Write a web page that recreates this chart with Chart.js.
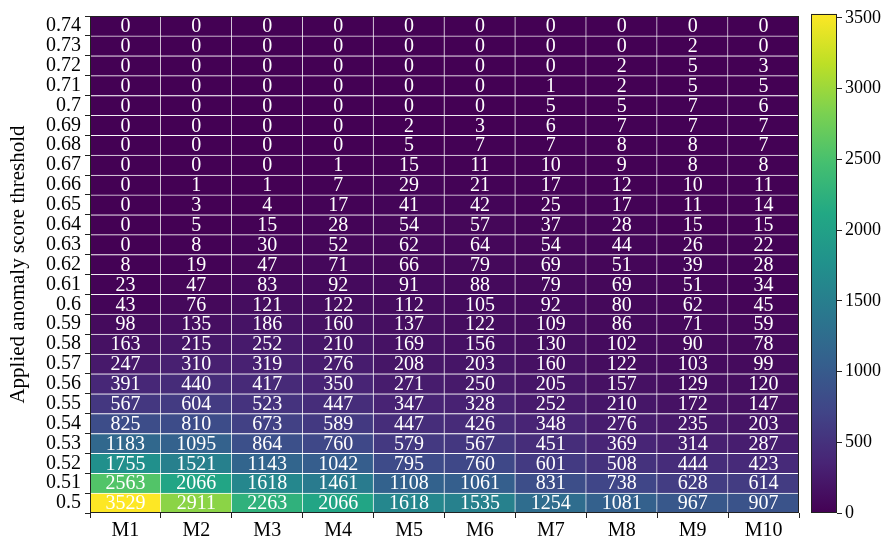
<!DOCTYPE html>
<html>
<head>
<meta charset="utf-8">
<title>Anomaly score threshold heatmap</title>
<script src="https://cdn.jsdelivr.net/npm/chart.js@4/dist/chart.umd.min.js"></script>
<style>
body { margin: 0; background: #fff; }
#wrap { position: relative; width: 889px; height: 540px; }
#heat { position: absolute; left: 0; top: 0; width: 808px; height: 540px; }
#bar { position: absolute; left: 800px; top: 0; width: 89px; height: 540px; }
</style>
</head>
<body>
<div id="wrap">
  <div id="heat"><canvas id="heatmap"></canvas></div>
  <div id="bar"><canvas id="colorbar"></canvas></div>
</div>

<script>
// models on the x axis
var models = ['M1', 'M2', 'M3', 'M4', 'M5', 'M6', 'M7', 'M8', 'M9', 'M10'];

// thresholds, top row first (as in the picture)
var thresholds = ['0.74', '0.73', '0.72', '0.71', '0.7', '0.69', '0.68', '0.67', '0.66', '0.65',
  '0.64', '0.63', '0.62', '0.61', '0.6', '0.59', '0.58', '0.57', '0.56', '0.55',
  '0.54', '0.53', '0.52', '0.51', '0.5'];

// one row per threshold, same order as above
var counts = [
  [0, 0, 0, 0, 0, 0, 0, 0, 0, 0],
  [0, 0, 0, 0, 0, 0, 0, 0, 2, 0],
  [0, 0, 0, 0, 0, 0, 0, 2, 5, 3],
  [0, 0, 0, 0, 0, 0, 1, 2, 5, 5],
  [0, 0, 0, 0, 0, 0, 5, 5, 7, 6],
  [0, 0, 0, 0, 2, 3, 6, 7, 7, 7],
  [0, 0, 0, 0, 5, 7, 7, 8, 8, 7],
  [0, 0, 0, 1, 15, 11, 10, 9, 8, 8],
  [0, 1, 1, 7, 29, 21, 17, 12, 10, 11],
  [0, 3, 4, 17, 41, 42, 25, 17, 11, 14],
  [0, 5, 15, 28, 54, 57, 37, 28, 15, 15],
  [0, 8, 30, 52, 62, 64, 54, 44, 26, 22],
  [8, 19, 47, 71, 66, 79, 69, 51, 39, 28],
  [23, 47, 83, 92, 91, 88, 79, 69, 51, 34],
  [43, 76, 121, 122, 112, 105, 92, 80, 62, 45],
  [98, 135, 186, 160, 137, 122, 109, 86, 71, 59],
  [163, 215, 252, 210, 169, 156, 130, 102, 90, 78],
  [247, 310, 319, 276, 208, 203, 160, 122, 103, 99],
  [391, 440, 417, 350, 271, 250, 205, 157, 129, 120],
  [567, 604, 523, 447, 347, 328, 252, 210, 172, 147],
  [825, 810, 673, 589, 447, 426, 348, 276, 235, 203],
  [1183, 1095, 864, 760, 579, 567, 451, 369, 314, 287],
  [1755, 1521, 1143, 1042, 795, 760, 601, 508, 444, 423],
  [2563, 2066, 1618, 1461, 1108, 1061, 831, 738, 628, 614],
  [3529, 2911, 2263, 2066, 1618, 1535, 1254, 1081, 967, 907]
];

// colour scale
var colorMin = 0;
var colorMax = 3529;
var colorTicks = [0, 500, 1000, 1500, 2000, 2500, 3000, 3500];

var FONT = '"Liberation Serif", "DejaVu Serif", serif';
Chart.defaults.font.family = FONT;
Chart.defaults.color = '#000';

// viridis, sampled every 0.1
var viridisStops = ['#440154', '#482475', '#414487', '#355f8d', '#2a788e', '#21918c',
  '#22a884', '#44bf70', '#7ad151', '#bddf26', '#fde725'];

function hexToRgb(h) {
  return [parseInt(h.substr(1, 2), 16), parseInt(h.substr(3, 2), 16), parseInt(h.substr(5, 2), 16)];
}

function viridis(t) {
  t = Math.max(0, Math.min(1, t));
  var p = t * 10, i = Math.min(9, Math.floor(p)), f = p - i;
  var a = hexToRgb(viridisStops[i]), b = hexToRgb(viridisStops[i + 1]);
  var c = a.map(function (v, k) { return Math.round(v + (b[k] - v) * f); });
  return 'rgb(' + c.join(',') + ')';
}

// stacked 1-unit bars, bottom row (0.5) first
var nRows = thresholds.length;
var datasets = [];
for (var k = 0; k < nRows; k++) {
  var row = counts[nRows - 1 - k];
  datasets.push({
    label: thresholds[nRows - 1 - k],
    data: models.map(function () { return 1; }),
    counts: row,
    backgroundColor: row.map(function (v) { return viridis((v - colorMin) / (colorMax - colorMin)); }),
    borderColor: 'rgba(255,255,255,0.8)',
    borderWidth: { top: 1, right: 1, bottom: 0, left: 0 },
    borderSkipped: false,
    barPercentage: 1,
    categoryPercentage: 1
  });
}

var cellLabels = {
  id: 'cellLabels',
  afterDatasetsDraw: function (chart) {
    var ctx = chart.ctx;
    ctx.save();
    ctx.fillStyle = '#fff';
    ctx.font = '20px ' + FONT;
    ctx.textAlign = 'center';
    ctx.textBaseline = 'middle';
    chart.data.datasets.forEach(function (ds, di) {
      chart.getDatasetMeta(di).data.forEach(function (el, i) {
        ctx.fillText(String(ds.counts[i]), el.x, (el.y + el.base) / 2 + 1);
      });
    });
    ctx.restore();
  }
};

var frame = {
  id: 'frame',
  afterDraw: function (chart) {
    var a = chart.chartArea, ctx = chart.ctx;
    ctx.save();
    ctx.strokeStyle = '#222';
    ctx.lineWidth = 1;
    ctx.strokeRect(Math.round(a.left) + 0.5, Math.round(a.top) + 0.5,
      Math.round(a.right - a.left) - 1, Math.round(a.bottom - a.top) - 1);
    ctx.restore();
  }
};

new Chart(document.getElementById('heatmap'), {
  type: 'bar',
  data: { labels: models, datasets: datasets },
  options: {
    responsive: true,
    maintainAspectRatio: false,
    animation: false,
    layout: { padding: { top: 9, right: 9, left: 0, bottom: 0 } },
    plugins: { legend: { display: false }, tooltip: { enabled: false } },
    scales: {
      x: {
        stacked: true,
        afterFit: function (s) { s.height = 27; },
        ticks: { font: { size: 20 }, padding: 1, autoSkip: false, maxRotation: 0 },
        grid: { drawOnChartArea: false, tickLength: 5, color: '#222' },
        border: { display: false }
      },
      y: {
        stacked: true,
        min: 0,
        max: nRows,
        afterBuildTicks: function (axis) {
          axis.ticks = thresholds.map(function (t, i) { return { value: i + 0.5 }; });
        },
        afterFit: function (s) { s.width = 90; },
        ticks: {
          autoSkip: false,
          font: { size: 20 },
          padding: 4,
          callback: function (v, i) { return thresholds[nRows - 1 - i]; }
        },
        grid: { drawOnChartArea: false, tickLength: 5, color: '#222', offset: true },
        border: { display: false },
        title: {
          display: true,
          text: 'Applied anomaly score threshold',
          font: { size: 21 },
          padding: { top: 6 }
        }
      }
    }
  },
  plugins: [cellLabels, frame]
});

new Chart(document.getElementById('colorbar'), {
  type: 'bar',
  data: {
    labels: [''],
    datasets: [{
      data: [colorMax],
      barPercentage: 1,
      categoryPercentage: 1,
      backgroundColor: function (c) {
        var a = c.chart.chartArea;
        if (!a) return viridis(1);
        var g = c.chart.ctx.createLinearGradient(0, a.bottom, 0, a.top);
        viridisStops.forEach(function (s, i) { g.addColorStop(i / 10, s); });
        return g;
      }
    }]
  },
  options: {
    responsive: true,
    maintainAspectRatio: false,
    animation: false,
    layout: { padding: { top: 9, left: 11, right: 0, bottom: 27 } },
    plugins: { legend: { display: false }, tooltip: { enabled: false } },
    scales: {
      x: { display: false },
      y: {
        position: 'right',
        min: colorMin,
        max: colorMax,
        afterBuildTicks: function (axis) {
          axis.ticks = colorTicks.map(function (v) { return { value: v }; });
        },
        afterFit: function (s) { s.width = 52; },
        ticks: {
          font: { size: 18 },
          padding: 3,
          autoSkip: false,
          callback: function (v) { return String(v); }
        },
        grid: { drawOnChartArea: false, tickLength: 5, color: '#222' },
        border: { display: false }
      }
    }
  },
  plugins: [frame]
});
</script>
</body>
</html>
